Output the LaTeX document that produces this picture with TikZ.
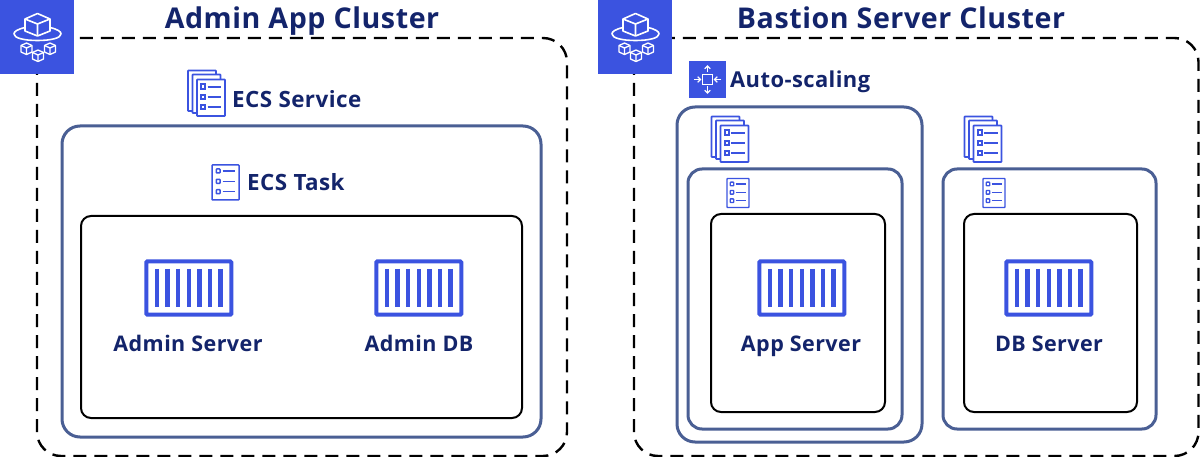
\documentclass[tikz,border=0pt]{standalone}
\usepackage{fontspec}
\setmainfont{Open Sans}[LetterSpace=2]
\definecolor{iconblue}{HTML}{3B53E0}
\definecolor{linkblue}{HTML}{4A5F94}
\definecolor{textnavy}{HTML}{13246B}
\tikzset{
  x=1pt,y=-1pt,
  dashbox/.style={draw=black,line width=2.4pt,dash pattern=on 13pt off 8pt,rounded corners=24pt},
  outerbox/.style={draw=linkblue,line width=3pt,rounded corners=18pt},
  innerbox/.style={draw=black,line width=2pt,rounded corners=10pt},
  tile/.style={fill=iconblue,draw=none},
  titletext/.style={text=textnavy,font=\bfseries\fontsize{28.6}{32}\selectfont,inner sep=0pt,anchor=base},
  labeltext/.style={text=textnavy,font=\bfseries\fontsize{21.5}{24}\selectfont,inner sep=0pt,anchor=base},
  headtext/.style={text=textnavy,font=\bfseries\fontsize{22.4}{24}\selectfont,inner sep=0pt,anchor=base west},
  icl/.style={draw=iconblue,line width=1.8pt,fill=white,rounded corners=.6pt},
  icw/.style={draw=white,line width=1.6pt,line join=round},
  pics/container/.style={code={
    \draw[iconblue,line width=4pt,rounded corners=1pt] (1.3,0.5) rectangle (86.3,53.7);
    \foreach \i in {0,...,6} \draw[iconblue,line width=4.4pt] (12+\i*10.6,8) -- (12+\i*10.6,46);
  }},
  pics/doc/.style={code={
    \draw[icl,line width=1.5pt] (0,0) rectangle (27,35);
    \foreach \j in {6,16.3,26.7} {
      \draw[icl,line width=1.5pt] (4.3,\j-2) rectangle (8,\j+2);
      \draw[iconblue,line width=1.5pt] (10.7,\j) -- (23,\j);
    }
  }},
  pics/smalldoc/.style={code={
    \draw[icl,line width=1.3pt] (0,0) rectangle (22,29);
    \foreach \j in {5.5,13.8,22.2} {
      \draw[icl,line width=1.4pt] (3.2,\j-1.8) rectangle (6.7,\j+1.8);
      \draw[iconblue,line width=1.4pt] (8.7,\j) -- (19,\j);
    }
  }},
  pics/docstack/.style={code={
    \draw[icl] (0,0.5) rectangle (28,41);
    \draw[icl] (4.5,4.5) rectangle (32.5,43);
    \draw[icl] (9,9.5) rectangle (37,46);
    \foreach \j in {16.7,27,37.3} {
      \draw[icl,line width=2pt,rounded corners=0pt] (13,\j-2.2) rectangle (17.3,\j+2.2);
      \draw[iconblue,line width=2pt] (19.7,\j) -- (33,\j);
    }
  }},
  pics/cluster/.style={code={
    \draw[icw] (37.5,13.5) -- (50,19) -- (50,31) -- (37.5,36) -- (25,31) -- (25,19) -- cycle;
    \draw[icw] (25,19) -- (37.5,24) -- (50,19) (37.5,24) -- (37.5,36);
    \draw[icw,line cap=round] (25,27.5) .. controls (17,29.5) and (14,31.5) .. (14,34) .. controls (14,38) and (24,40.5) .. (37.5,40.5) .. controls (51,40.5) and (61,38) .. (61,34) .. controls (61,31.5) and (58,29.5) .. (50,27.5);
    \foreach \cx/\cy in {26.5/49,38/56,50/49} {
      \begin{scope}[shift={(\cx,\cy)}]
        \draw[icw,line width=1.3pt,fill=iconblue] (0,-6) -- (5.5,-3.5) -- (5.5,3) -- (0,5.5) -- (-5.5,3) -- (-5.5,-3.5) -- cycle;
        \draw[icw,line width=1.3pt] (-5.5,-3.5) -- (0,-1) -- (5.5,-3.5) (0,-1) -- (0,5.5);
      \end{scope}
    }
  }},
  pics/scaling/.style={code={
    \draw[white,line width=1.2pt] (-4.8,-4.8) rectangle (4.8,4.8);
    \foreach \a in {0,180} {
      \begin{scope}[rotate=\a]
        \draw[white,line width=1.2pt] (0,7) -- (0,13.5);
        \draw[white,line width=1.2pt] (-2.8,10.7) -- (0,13.5) -- (2.8,10.7);
        \draw[white,line width=1.2pt] (13.5,0) -- (7,0);
        \draw[white,line width=1.2pt] (9.8,-2.8) -- (7,0) -- (9.8,2.8);
      \end{scope}
    }
  }},
}
\begin{document}
\begin{tikzpicture}
\useasboundingbox (0,0) rectangle (1200,457);
\fill[white] (0,0) rectangle (1200,457);

\draw[dashbox] (37,38) rectangle (567,456);
\draw[dashbox] (634,38) rectangle (1198.5,456);

\draw[outerbox] (62,126) rectangle (541,437);
\draw[innerbox] (81,216) rectangle (522,418);

\draw[outerbox] (677,107) rectangle (922,442);
\draw[outerbox,rounded corners=14pt] (688,169) rectangle (902,429);
\draw[innerbox] (711,214) rectangle (885,412);
\draw[outerbox,rounded corners=14pt] (943,169) rectangle (1156,429);
\draw[innerbox] (964,214) rectangle (1137,412);

\fill[tile] (0,0) rectangle (74,74);
\pic at (0,0) {cluster};
\fill[tile] (598,0) rectangle (672,74);
\pic at (598,0) {cluster};

\node[titletext] (t1) at (302,28.5) {Admin App Cluster};
\node[titletext] (t2) at (901,28.5) {Bastion Server Cluster};

\fill[tile] (689,61) rectangle (726,98);
\pic at (707.5,79.5) {scaling};
\node[headtext,font=\bfseries\fontsize{21.9}{24}\selectfont] (as) at (730,87.7) {Auto-scaling};

\pic at (188,70) {docstack};
\node[headtext] (svc) at (232,107.2) {ECS Service};
\pic at (212,165) {doc};
\node[headtext] (task) at (247,191) {ECS Task};

\pic at (711.5,116) {docstack};
\pic at (964.5,116) {docstack};
\pic at (727,178.5) {smalldoc};
\pic at (983,178.5) {smalldoc};

\pic at (145,261) {container};
\pic at (375,261) {container};
\pic at (758,261) {container};
\pic at (1005,261) {container};

\node[labeltext] (n1) at (188,351.7) {Admin Server};
\node[labeltext] (n2) at (419,351.7) {Admin DB};
\node[labeltext] (n3) at (801,351.7) {App Server};
\node[labeltext] (n4) at (1049,351.7) {DB Server};
\end{tikzpicture}
\end{document}
